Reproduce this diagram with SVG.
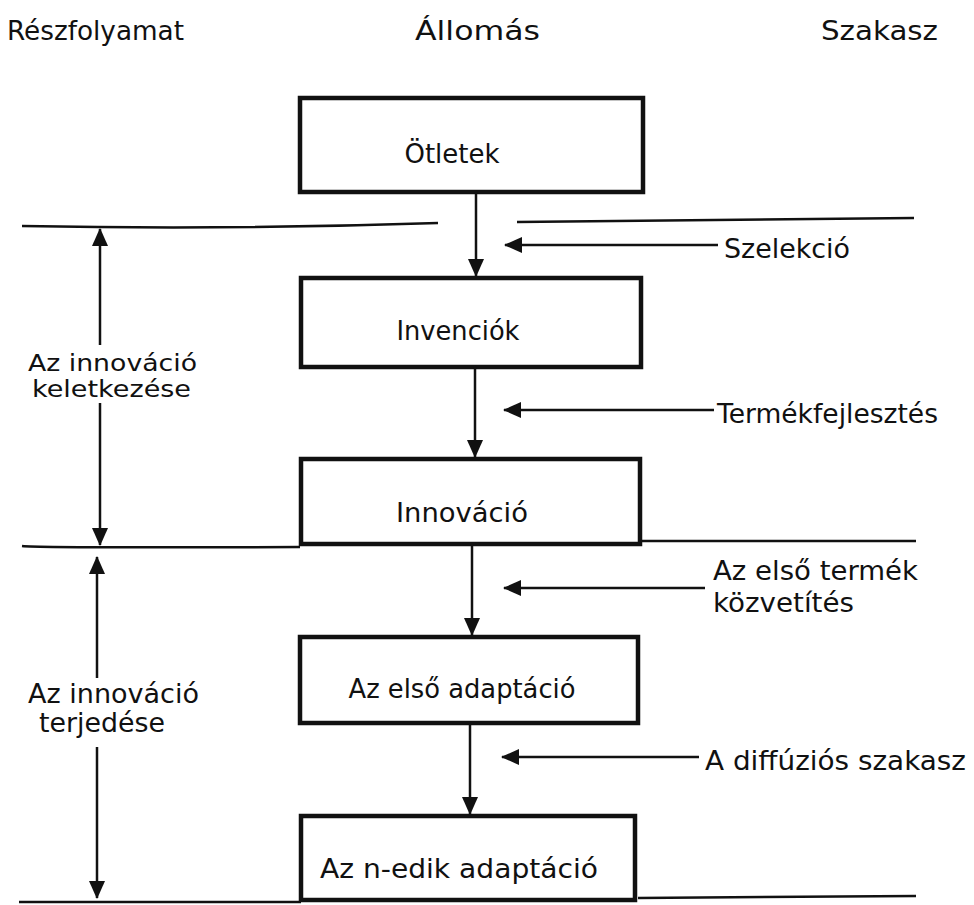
<svg xmlns="http://www.w3.org/2000/svg" width="974" height="905" viewBox="0 0 974 905">
<defs>
<style>
text{font-family:"DejaVu Sans","Liberation Sans",sans-serif;font-size:26px;fill:#111}
.sm{font-size:23px}
.box{fill:#fff;stroke:#111;stroke-width:4.5}
.ln{fill:none;stroke:#111;stroke-width:2.5}
.ar{fill:none;stroke:#111;stroke-width:2.5;marker-end:url(#ah)}
.c{text-anchor:middle}
</style>
<marker id="ah" viewBox="0 0 18 16" refX="17" refY="8" markerWidth="18" markerHeight="16" markerUnits="userSpaceOnUse" orient="auto">
<path d="M0,0 L18,8 L0,16 z" fill="#111"/>
</marker>
</defs>
<rect width="974" height="905" fill="#fff"/>
<g id="headers">
<text x="7" y="40" textLength="177" lengthAdjust="spacingAndGlyphs">Részfolyamat</text>
<text x="415" y="40" textLength="125" lengthAdjust="spacingAndGlyphs">Állomás</text>
<text x="821" y="40" textLength="117" lengthAdjust="spacingAndGlyphs">Szakasz</text>
</g>
<g id="separators">
<path class="ln" d="M22,226 Q230,230 438,223"/>
<path class="ln" d="M517,222 L914,218"/>
<path class="ln" d="M22,546 Q40,548 300,547"/>
<path class="ln" d="M640,541 L916,541"/>
<path class="ln" d="M19,902 L301,902"/>
<path class="ln" d="M638,898 L916,896"/>
</g>
<g id="node-otletek">
<rect class="box" x="300" y="98" width="343" height="94"/>
<text class="c" x="452" y="163">Ötletek</text>
</g>
<g id="node-invenciok">
<rect class="box" x="301" y="278" width="340" height="89"/>
<text class="c" x="458" y="340" textLength="123" lengthAdjust="spacingAndGlyphs">Invenciók</text>
</g>
<g id="node-innovacio">
<rect class="box" x="301" y="459" width="339" height="85"/>
<text class="c" x="462" y="522" textLength="132" lengthAdjust="spacingAndGlyphs">Innováció</text>
</g>
<g id="node-elso-adaptacio">
<rect class="box" x="300" y="637" width="338" height="86"/>
<text class="c" x="462" y="698" textLength="227" lengthAdjust="spacingAndGlyphs">Az első adaptáció</text>
</g>
<g id="node-n-edik-adaptacio">
<rect class="box" x="301" y="816" width="334" height="84"/>
<text class="c" x="459" y="878" textLength="278" lengthAdjust="spacingAndGlyphs">Az n-edik adaptáció</text>
</g>
<g id="connectors">
<path class="ar" d="M476,192 L476,276"/>
<path class="ar" d="M475,367 L475,457"/>
<path class="ar" d="M472,544 L472,635"/>
<path class="ar" d="M470,723 L470,814"/>
<path class="ar" d="M718,245 L505,245"/>
<path class="ar" d="M714,410 L504,410"/>
<path class="ar" d="M705,588 L504,588"/>
<path class="ar" d="M699,757 L502,757"/>
<path class="ar" d="M100,345 L100,229"/>
<path class="ar" d="M100,403 L100,545"/>
<path class="ar" d="M97,678 L97,557"/>
<path class="ar" d="M97,747 L97,898"/>
</g>
<g id="stage-labels">
<text x="724" y="258" textLength="126" lengthAdjust="spacingAndGlyphs">Szelekció</text>
<text x="717" y="423" textLength="221" lengthAdjust="spacingAndGlyphs">Termékfejlesztés</text>
<text x="713" y="580" textLength="205" lengthAdjust="spacingAndGlyphs">Az első termék</text>
<text x="713" y="612" textLength="141" lengthAdjust="spacingAndGlyphs">közvetítés</text>
<text x="705" y="770" textLength="261" lengthAdjust="spacingAndGlyphs">A diffúziós szakasz</text>
</g>
<g id="process-labels">
<text class="sm" x="28" y="371" textLength="169" lengthAdjust="spacingAndGlyphs">Az innováció</text>
<text class="sm" x="32" y="397" textLength="159" lengthAdjust="spacingAndGlyphs">keletkezése</text>
<text x="28" y="703" textLength="171" lengthAdjust="spacingAndGlyphs">Az innováció</text>
<text x="39" y="732" textLength="126" lengthAdjust="spacingAndGlyphs">terjedése</text>
</g>
</svg>
